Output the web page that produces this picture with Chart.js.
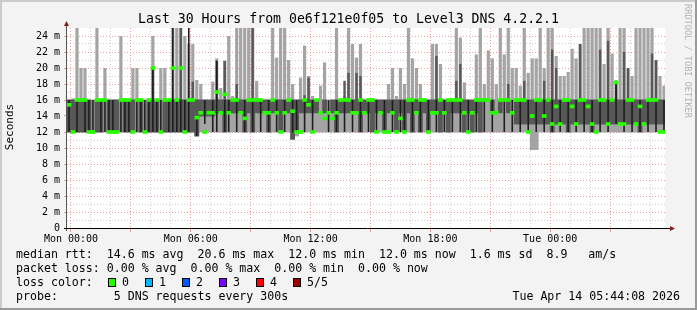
<!DOCTYPE html>
<html><head><meta charset="utf-8">
<script src="https://cdn.jsdelivr.net/npm/chart.js@4.4.1/dist/chart.umd.min.js"></script>
<style>
html,body{margin:0;padding:0;background:#f3f3f3;}
#wrap{position:relative;width:697px;height:310px;background:#f3f3f3;overflow:hidden;font-family:"DejaVu Sans Mono",monospace;color:#000;}
#c{position:absolute;left:0;top:0;}
.t{position:absolute;white-space:pre;}
.leg{left:16px;font-size:11.6px;line-height:14px;}
.box{position:absolute;width:6px;height:7px;border:1px solid #000;top:278px;}
.bl{position:absolute;font-size:11.6px;line-height:14px;top:275px;white-space:pre;}
.edge{position:absolute;}
</style></head><body>
<div id="wrap">
<canvas id="c" width="697" height="310"></canvas>
<div class="t" style="left:0;width:697px;text-align:center;top:11px;font-size:13.2px;line-height:16px;">Last 30 Hours from 0e6f121e0f05 to Level3 DNS 4.2.2.1</div>
<div class="t" style="left:-20px;top:120px;width:60px;text-align:center;font-size:11px;line-height:14px;transform:rotate(-90deg);">Seconds</div>
<div class="t" style="left:628px;top:56px;width:120px;text-align:center;font-size:8.6px;line-height:10px;color:#b2b2b2;transform:rotate(90deg);">RRDTOOL / TOBI OETIKER</div>
<div class="t leg" style="top:247px;">median rtt:  14.6 ms avg  20.6 ms max  12.0 ms min  12.0 ms now  1.6 ms sd  8.9   am/s</div>
<div class="t leg" style="top:261px;">packet loss: 0.00 % avg  0.00 % max  0.00 % min  0.00 % now</div>
<div class="t leg" style="top:275px;">loss color:</div>
<div id="lossLegend"></div>
<div class="t leg" style="top:289px;">probe:        5 DNS requests every 300s</div>
<div class="t" style="right:17px;top:289px;font-size:11.6px;line-height:14px;">Tue Apr 14 05:44:08 2026</div>
<div class="edge" style="left:0;top:0;width:697px;height:2px;background:#cbcbcb;"></div>
<div class="edge" style="left:0;top:0;width:2px;height:310px;background:#cbcbcb;"></div>
<div class="edge" style="left:0;top:308px;width:697px;height:2px;background:#999;"></div>
<div class="edge" style="left:695px;top:0;width:2px;height:310px;background:#999;"></div>
</div>
<script>
// ---- data (12-minute bins starting Sun 23:48) ----
const binStartHour = -0.2;   // hours relative to Mon 00:00
const binHours = 0.2;

const hi = [
16,16.2,25,20,20,16,16,25,16,20,
16,16,16,24,16,16,20,20,16,16,
16,24,16,20,20,16,25,25,25,24,
23,23,18.5,18,16,16,18.3,21.2,17.5,20.9,
24,16.5,25,25,25,25,25,18.4,16,16,
16,25,21.3,25,25,21,18,16,18.8,22.8,
19,16.5,16,17.8,20.7,16,16,25,16,16.5,
25,23,21.3,23,16,16,16,16,16,16,
18,20,16.5,20,18,25,21.2,20,18,16,
16,23,23,20.5,16,16,16,25,23.8,18.2,
16,16,21.7,25,18,22.2,21.2,18,25,21.7,
25,20,20,17.8,25,19.4,21.2,21.2,25,20,
25,25,21.5,19,19,19.5,22.4,21.2,23,25,
25,25,25,25,20.5,25,21.8,18.4,25,25,
20,19,25,25,25,25,25,21,19,17.8];

const lo = [
12,12,12,12,12,12,12,12,12,12,
12,12,12,12,12,12,12,12,12,12,
12,12,12,12,12,12,12,12,12,12,
12,12,11.5,12,12,12,12,12,12,12,
12,12,12,12,12,12,12,12,12,12,
12,12,12,12,12,12,11.1,11.5,12,12,
12,12,12,12,12,12,12,12,12,12,
12,12,12,12,12,12,12,12,12,12,
12,12,12,12,12,12,12,12,12,12,
12,12,12,12,12,12,12,12,12,12,
12,12,12,12,12,12,12,12,12,12,
12,12,12,12,12,12,9.8,9.8,12,12,
12,12,12,12,12,12,12,12,12,12,
12,12,12,12,12,12,12,12,12,12,
12,12,12,12,12,12,12,12,12,12];

const darkBand = [
[12,16],[12,16],[12,16],[12,16],[12,16],[12,16],null,[12,16],[12,16],null,
[12,16],[12,16],[12,16],null,[12,16],[12,16],[12,16],null,[12,16],null,
[12,16],[12,20],[12,16],null,[12,16],[12,16],[12,16],[12,16],[12,25],[12,16],
[12,16],[12,18.3],[11.5,16],[14,16],[14,16],[14,16],[14,16],[14.4,20.9],[14.4,16],[12,20.9],
[14.4,16],[14.4,16],[14.4,18],[14.4,16],[12,16],[14.4,16],[12,25],[14.4,16],[14.4,16],[14.4,16],
[12,16],[14.4,16],[14.4,16],[12,16],[14.4,16],[14.4,16],[11.1,16],[12,16],[14.4,16],[14.4,16.6],
[14.4,18.8],[14.4,16],[14.4,16],null,[14.4,16],null,[14.4,16],[12,16],[14.4,16],[14.4,18.4],
[14.4,19.4],[14.4,16],[14.4,19.4],[12,19],[14.4,16],[14.4,16],[12,16],[14.4,16],[14.4,16],[12,16],
[14.4,16],[14.4,16],[12,16],[14.4,16],[12,16],[14.4,16],[12,16],[14.4,16],[12,16],[14.4,16],
[12,16],[14.4,16],[14.4,21.5],[12,16],[14.4,16],[12,16],[14.4,16],[14.4,18.4],[14.4,20.5],[12,16],
[14.4,16],[12,16],[14.4,16],[12,16],null,null,[14.4,16],null,[14.4,16],null,
[14.4,18],null,[13,16],[13,16],[13,18.4],[13,16],[13,16],[13,16],[13,16],[13,18.4],
[13,16],[12,22.3],[13,20],[13,16],[13,16],[12,16],[13,16],[13,16],[13,23],[13,16],
[13,16],[12,16],[13,16],[13,22.3],[13,16],[13,23.4],[13,16],[13,18.4],[13,16],[13,22],
[13,20],[13,16],[13,16],[12,16],[13,16],[13,16],[13,21.8],[13,21],[13,16],[13,16]];

const blackBand = [
[12,16],null,[12,16],null,[12,16],[12,16],[12,16],null,[12,16],[12,16],
[12,16],[12,16],null,[12,16],[12,16],[12,16],null,[12,16],[12,16],[12,16],
[12,16],[12,20],[12,16],[12,16],null,[12,16],[12,25],[12,16],[12,16],[12,16],
[12,25],null,[11.5,14],null,[13,16],null,[12,16],[12,20.9],null,[12,16],
[12,16],null,[12,16],null,[12,16],null,[12,16],null,[12,16],null,
[12,16],null,[12,16],null,[12,16],null,[12,16],[12,16],null,[12,16],
null,[12,16],null,null,null,[12,16],null,[12,16],null,[12,16],
null,[12,16],null,[12,16],null,[12,16],null,[12,16],null,[12,16],
null,[12,16],null,[12,16],[12,16],null,[12,16],null,[12,16],null,
[12,16],null,[12,16],null,[12,16],null,[12,16],null,[12,16],null,
[12,16],null,[12,16],null,[12,16],null,[12,16],null,null,[12,16],
null,[12,16],null,[12,16],null,[12,16],null,[12,16],null,[12,16],
null,[12,16],null,[12,16],null,[12,16],null,[12,16],null,[12,16],
null,[12,16],null,[12,16],null,[12,16],null,[13,18.4],null,[12,16],
null,[12,16],null,[12,16],null,[12,16],null,[12,16],null,[12,16]];

const median = [
15.4,12,16,16,16,12,12,16,16,16,
12,12,12,16,16,16,12,16,16,12,
16,20,16,12,16,16,20,16,20,12,
16,16,13.8,14.4,12,14.4,14.4,17,14.4,16.7,
14.4,16,16,14.4,13.7,16,16,16,16,14.4,
14.4,16,14.4,12,14.4,16,14.6,12,12,16,
15.4,12,16,14.4,13.7,14.4,13.7,14.4,16,16,
16,14.4,14.4,16,14.4,16,16,12,14.4,12,
12,14.4,12,13.7,12,16,16,14.4,16,16,
12,14.4,14.4,16,14.4,16,16,16,16,14.4,
12,14.4,16,16,16,16,14.4,14.4,16,16,
16,14.4,16,16,16,12,14,16,16,14,
16,13,15.2,13,16,16,15.2,13,16,16,
15.2,13,12,16,16,13,16,18.2,13,13,
16,16,13,15.2,13,16,16,16,12,12];

const xTickHours = [0, 6, 12, 18, 24];
const xTickLabels = ['Mon 00:00', 'Mon 06:00', 'Mon 12:00', 'Mon 18:00', 'Tue 00:00'];
const lossLabels = ['0', '1', '2', '3', '4', '5/5'];
const lossColors = ['#26ff00', '#00b8ff', '#0059ff', '#7e00ff', '#ff0000', '#a00000'];

// ---- build ----
const bandTop = 16;  // the dense body of the smoke; the part above it is drawn as narrower spikes
const binX = hi.map((_, i) => binStartHour + binHours * (i + 0.5));
const lightBase = hi.map((h, i) => ({x: binX[i], y: [lo[i], Math.min(h, bandTop)]}));
const lightSpike = hi.map((h, i) => h > bandTop ? {x: binX[i], y: [bandTop, h]} : null).filter(Boolean);
const darkBase = darkBand.map((d, i) => d ? {x: binX[i], y: [d[0], Math.min(d[1], bandTop)]} : null).filter(Boolean);
const darkSpike = darkBand.map((d, i) => (d && d[1] > bandTop) ? {x: binX[i], y: [bandTop, d[1]]} : null).filter(Boolean);
const blackData = blackBand.map((d, i) => d ? {x: binX[i], y: d} : null).filter(Boolean);
const medHalf = 0.19;
const medData = median.map((m, i) => ({x: binX[i], y: [m - medHalf, m + medHalf]}));

// loss legend
const ll = document.getElementById('lossLegend');
lossLabels.forEach((lab, i) => {
  const left = 108 + i * 37;
  const b = document.createElement('div');
  b.className = 'box'; b.style.left = left + 'px'; b.style.background = lossColors[i];
  ll.appendChild(b);
  const t = document.createElement('div');
  t.className = 'bl'; t.style.left = (left + 14) + 'px'; t.textContent = lab;
  ll.appendChild(t);
});

Chart.defaults.font.family = '"DejaVu Sans Mono", monospace';
Chart.defaults.color = '#000';

const majorRed = 'rgba(230,120,120,0.7)';
const minorGray = 'rgba(160,160,160,0.5)';

const framePlugin = {
  id: 'frame',
  beforeDraw(chart) {
    const {ctx, chartArea: a} = chart;
    ctx.save();
    ctx.fillStyle = '#ffffff';
    ctx.fillRect(a.left, a.top, a.right - a.left, a.bottom - a.top);
    ctx.restore();
  },
  afterDraw(chart) {
    const {ctx, chartArea: a} = chart;
    ctx.save();
    ctx.strokeStyle = '#555';
    ctx.lineWidth = 1;
    ctx.beginPath();
    ctx.moveTo(a.left - 0.5, a.bottom + 3);
    ctx.lineTo(a.left - 0.5, a.top - 3);
    ctx.stroke();
    ctx.strokeStyle = '#000';
    ctx.beginPath();
    ctx.moveTo(a.left - 3, a.bottom + 0.5);
    ctx.lineTo(a.right + 6, a.bottom + 0.5);
    ctx.stroke();
    ctx.fillStyle = '#8b1a1a';
    ctx.beginPath();
    ctx.moveTo(a.left - 0.5, a.top - 7);
    ctx.lineTo(a.left - 3, a.top - 2);
    ctx.lineTo(a.left + 2, a.top - 2);
    ctx.closePath();
    ctx.fill();
    ctx.beginPath();
    ctx.moveTo(a.right + 10, a.bottom + 0.5);
    ctx.lineTo(a.right + 5, a.bottom - 2);
    ctx.lineTo(a.right + 5, a.bottom + 3);
    ctx.closePath();
    ctx.fill();
    ctx.restore();
  }
};

const barCommon = {grouped: false, categoryPercentage: 1, borderWidth: 0};

new Chart(document.getElementById('c'), {
  type: 'bar',
  data: {
    datasets: [
      Object.assign({label: 'min-max', data: lightBase, backgroundColor: '#a4a4a4', order: 6, barPercentage: 1, inflateAmount: 0.4}, barCommon),
      Object.assign({label: 'min-max spikes', data: lightSpike, backgroundColor: '#a4a4a4', order: 5, barPercentage: 0.8, inflateAmount: 0}, barCommon),
      Object.assign({label: 'p2-p4', data: darkBase, backgroundColor: '#585858', order: 4, barPercentage: 1, inflateAmount: 0.4}, barCommon),
      Object.assign({label: 'p2-p4 spikes', data: darkSpike, backgroundColor: '#585858', order: 3, barPercentage: 0.6, inflateAmount: 0}, barCommon),
      Object.assign({label: 'core', data: blackData, backgroundColor: '#1e1e1e', order: 2, barPercentage: 0.4, inflateAmount: 0}, barCommon),
      Object.assign({label: 'median', data: medData, backgroundColor: lossColors[0], order: 1, barPercentage: 1, inflateAmount: 0.3}, barCommon)
    ]
  },
  options: {
    responsive: false,
    animation: false,
    events: [],
    layout: {padding: {left: 0, top: 28, right: 32, bottom: 0}},
    plugins: {legend: {display: false}, tooltip: {enabled: false}, title: {display: false}},
    scales: {
      x: {
        type: 'linear', min: -0.2, max: 29.75, offset: false,
        grid: {
          offset: false, drawOnChartArea: true, lineWidth: 1, tickLength: 4,
          color: (c) => (c.tick && c.tick.value % 3 === 0) ? majorRed : minorGray,
          tickColor: (c) => (c.tick && c.tick.value % 3 === 0) ? majorRed : 'rgba(0,0,0,0)'
        },
        border: {display: false, dash: [1, 2]},
        ticks: {
          stepSize: 1, autoSkip: false, includeBounds: false, maxRotation: 0, padding: 1,
          font: {size: 10},
          callback: (v) => { const k = xTickHours.indexOf(v); return k >= 0 ? xTickLabels[k] : ''; }
        },
        afterFit: (s) => { s.height = 82; }
      },
      y: {
        type: 'linear', min: 0, max: 25,
        grid: {
          lineWidth: 1, tickLength: 3,
          color: (c) => (c.tick.value === 0 || c.tick.value === 25) ? 'rgba(0,0,0,0)' : (c.tick.value % 2 === 0 ? majorRed : minorGray),
          tickColor: (c) => (c.tick.value % 2 === 0 && c.tick.value < 25) ? majorRed : 'rgba(0,0,0,0)'
        },
        border: {display: false, dash: [1, 2]},
        ticks: {
          stepSize: 1, autoSkip: false, padding: 4, font: {size: 10},
          callback: (v) => (v % 2 === 0 && v < 25) ? (v === 0 ? '0' : v + ' m') : ''
        },
        afterFit: (s) => { s.width = 67; }
      }
    }
  },
  plugins: [framePlugin]
});
</script>
</body></html>
